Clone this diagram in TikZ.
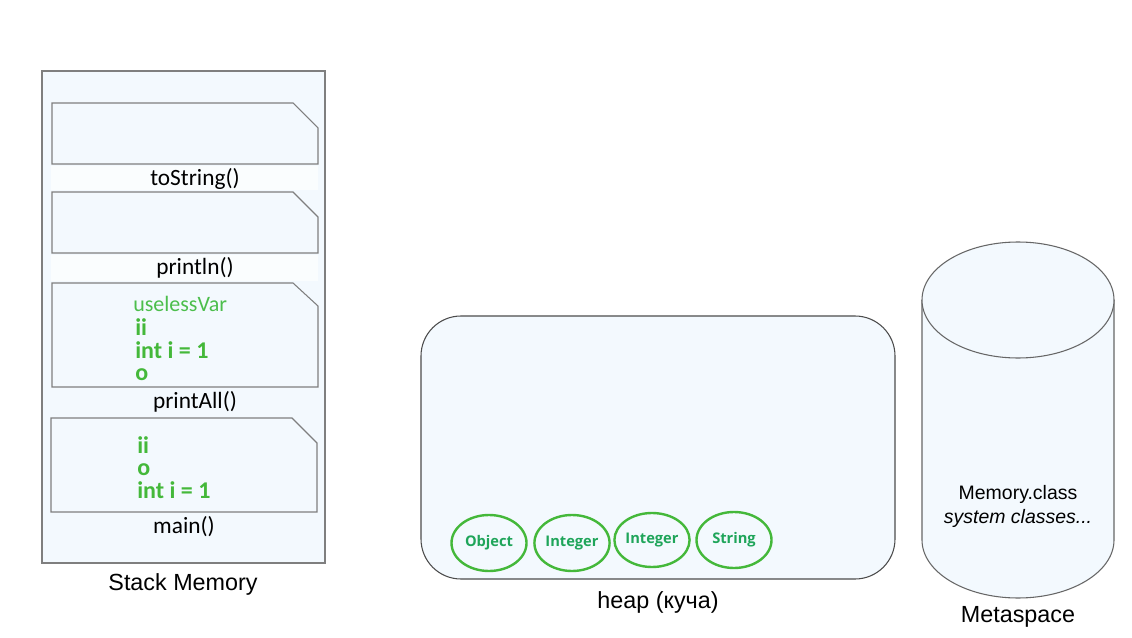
\documentclass[tikz,border=0pt]{standalone}
\usepackage{fontspec}
\usetikzlibrary{shapes.geometric}
\setmainfont{Liberation Sans}
\newfontfamily\calfont{Carlito}
\newfontfamily\osfont{Open Sans}
\definecolor{pale}{HTML}{F3F9FE}
\definecolor{edge}{HTML}{7F7F7F}
\definecolor{grn}{HTML}{44B83A}
\definecolor{grnlt}{HTML}{4CBE4C}
\definecolor{ovtext}{HTML}{1FA55A}
\begin{document}
\begin{tikzpicture}[x=0.75pt,y=-0.75pt,
  framebox/.style={draw=edge,fill=pale,line width=0.8pt},
  flabel/.style={font=\calfont\fontsize{17.5}{20}\selectfont,inner sep=0pt},
  big/.style={font=\fontsize{17.5}{20}\selectfont,inner sep=0pt},
  gvar/.style={font=\calfont\bfseries\fontsize{18}{20}\selectfont,text=grn,inner sep=0pt,anchor=west,text height=12pt,text depth=0pt},
  obj/.style={ellipse,draw=grn,line width=1.8pt,fill=pale,inner sep=0pt,minimum width=56.25pt,minimum height=42pt,font=\osfont\bfseries\fontsize{11}{12}\selectfont,text=ovtext}]
\useasboundingbox (0,0) rectangle (1132,638);
\fill[white] (0,0) rectangle (1132,638);
% stack
\draw[draw=edge,fill=pale,line width=0.8pt] (42,71) rectangle (325,563);
\fill[white!60!pale] (51,166) rectangle (318,190);
\fill[white!60!pale] (51,255) rectangle (318,281);
\draw[framebox] (52,103) -- (293,103) -- (318,128) -- (318,164) -- (52,164) -- cycle;
\draw[framebox] (52,192) -- (293,192) -- (318,217) -- (318,253) -- (52,253) -- cycle;
\draw[framebox] (52,283) -- (293,283) -- (318,306) -- (318,387) -- (52,387) -- cycle;
\draw[framebox] (51,418) -- (292,418) -- (317,443) -- (317,512) -- (51,512) -- cycle;
\node[flabel] (l1) at (195,179) {toString()};
\node[flabel] (l2) at (195,268) {println()};
\node[flabel] (l3) at (195,402) {printAll()};
\node[flabel] (l4) at (184,527) {main()};
\node[gvar,font=\calfont\fontsize{16.5}{20}\selectfont,text=grnlt] (v1) at (133,303) {uselessVar};
\node[gvar] (v2) at (135,327) {ii};
\node[gvar] (v3) at (135,350) {int i = 1};
\node[gvar] (v4) at (135,372) {o};
\node[gvar] (m1) at (137,445) {ii};
\node[gvar] (m2) at (137,467) {o};
\node[gvar] (m3) at (137,490) {int i = 1};
\node[big] (sm) at (183,584) {Stack Memory};
% heap
\draw[draw=black!70,fill=pale,line width=0.8pt,rounded corners=30pt] (421,316) rectangle (895,579);
\node[big] (hp) at (658,602) {heap (куча)};
\node[obj] (o1) at (489,543) {Object};
\node[obj] (o2) at (572,543) {Integer};
\node[obj,minimum height=40.5pt] (o3) at (652,540) {Integer};
\node[obj] (o4) at (734,540) {String};
% metaspace
\draw[draw=black!60,fill=pale,line width=0.8pt] (922,300) -- (922,540) arc[start angle=180,end angle=0,x radius=96,y radius=58] -- (1114,300);
\draw[draw=black!60,fill=pale,line width=0.8pt] (1018,300) ellipse[x radius=96,y radius=58];
\node[font=\fontsize{14.6}{17}\selectfont,inner sep=0pt] (mc) at (1018,494) {Memory.class};
\node[font=\itshape\fontsize{14.6}{17}\selectfont,inner sep=0pt] (sc) at (1018,518) {system classes...};
\node[big] (ms) at (1018,617) {Metaspace};
\end{tikzpicture}
\end{document}
